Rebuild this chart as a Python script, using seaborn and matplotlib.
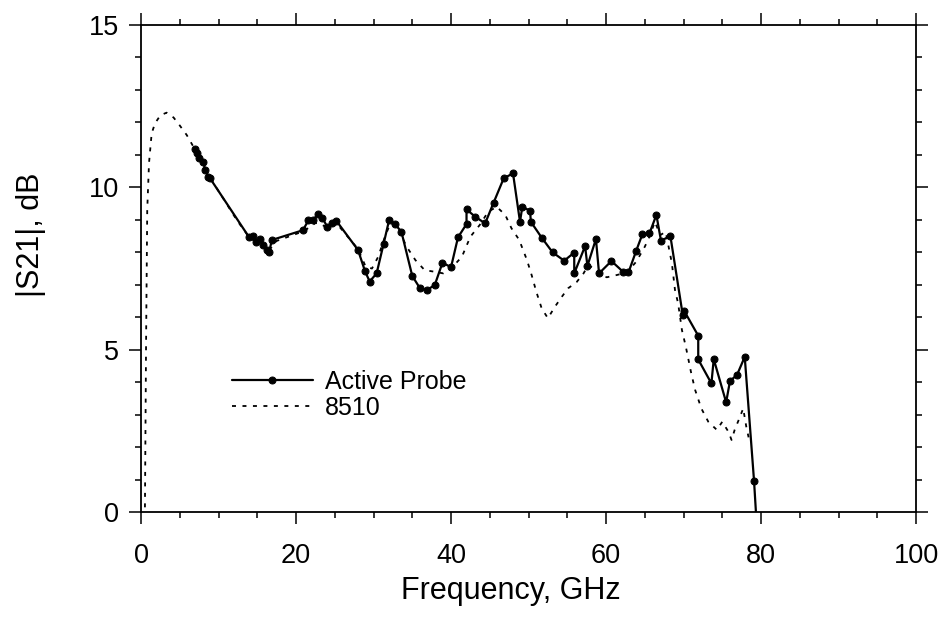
import numpy as np
import pandas as pd
import matplotlib
matplotlib.use("Agg")
import matplotlib.pyplot as plt
from matplotlib.ticker import MultipleLocator
import seaborn as sns

# Active Probe measured points (GHz, dB)
probe_freq = [7.0, 7.2, 7.5, 8.0, 8.3, 8.7, 8.9, 13.9, 14.4, 14.8, 15.3, 15.8, 16.2, 16.5,
              16.9, 20.9, 21.6, 22.2, 22.8, 23.4, 24.0, 24.6, 25.2, 28.0, 28.9, 29.5, 30.4,
              31.3, 32.0, 32.8, 33.6, 35.0, 36.0, 36.9, 37.9, 38.9, 40.0, 40.9, 42.0, 42.0,
              43.1, 44.4, 45.5, 46.8, 48.0, 48.9, 49.2, 50.2, 50.3, 51.7, 53.1, 54.6, 55.9,
              55.9, 57.3, 57.6, 58.7, 59.1, 60.7, 62.2, 62.9, 63.9, 64.7, 65.6, 66.5, 67.1,
              68.3, 69.9, 70.1, 71.9, 71.9, 73.6, 73.9, 75.5, 76.0, 76.9, 77.9, 79.1, 79.6]
probe_db = [11.17, 11.05, 10.89, 10.79, 10.53, 10.33, 10.28, 8.48, 8.51, 8.33, 8.41, 8.22, 8.07, 8.00,
            8.38, 8.68, 8.99, 8.99, 9.17, 9.07, 8.79, 8.89, 8.97, 8.07, 7.42, 7.10, 7.35,
            8.26, 8.98, 8.86, 8.63, 7.27, 6.89, 6.84, 6.99, 7.68, 7.54, 8.46, 8.87, 9.32,
            9.10, 8.89, 9.53, 10.28, 10.43, 8.94, 9.40, 9.28, 8.94, 8.45, 8.00, 7.74, 7.99,
            7.35, 8.19, 7.58, 8.41, 7.35, 7.73, 7.40, 7.38, 8.05, 8.56, 8.58, 9.15, 8.35,
            8.51, 6.07, 6.19, 5.43, 4.70, 3.96, 4.71, 3.38, 4.04, 4.22, 4.78, 0.96, -1.0]

# 8510 network analyzer trace (GHz, dB)
ref_freq = [0.45, 0.5, 0.65, 0.8, 1.03, 1.37, 1.8, 2.5, 3.3, 4.2, 4.95, 5.9, 7.0, 8.5, 11.0,
            11.8, 12.6, 14.0, 16.5, 17.5, 21.0, 22.5, 23.1, 24.0, 25.2, 28.0, 29.0, 29.8,
            30.6, 31.5, 32.2, 33.2, 34.2, 35.4, 36.6, 37.9, 39.0, 40.0, 41.4, 42.5, 43.7,
            44.8, 45.9, 47.0, 47.8, 48.8, 49.8, 50.4, 51.0, 51.7, 52.5, 53.4, 54.3, 55.1,
            56.2, 57.1, 57.7, 58.5, 59.3, 60.1, 61.4, 62.7, 63.9, 65.0, 65.7, 66.3, 67.0,
            67.7, 68.5, 68.9, 69.3, 69.8, 70.3, 71.0, 71.5, 72.3, 73.2, 74.3, 75.0, 75.8,
            76.2, 76.6, 77.3, 77.7, 78.1, 78.4]
ref_db = [-0.5, 0.0, 5.2, 9.3, 10.75, 11.66, 11.97, 12.22, 12.30, 12.15, 11.92, 11.61, 11.15, 10.45, 9.51,
          9.20, 8.91, 8.45, 8.05, 8.35, 8.65, 8.90, 8.89, 8.75, 8.90, 8.10, 7.55, 7.50,
          7.86, 8.50, 8.90, 8.75, 8.20, 7.76, 7.45, 7.40, 7.35, 7.50, 7.86, 8.48, 8.84,
          9.25, 9.40, 9.15, 8.74, 8.38, 7.76, 7.30, 6.79, 6.27, 5.97, 6.32, 6.63, 6.89,
          7.08, 7.35, 7.60, 7.50, 7.30, 7.23, 7.30, 7.38, 7.71, 8.17, 8.53, 8.94, 8.53,
          8.63, 7.66, 6.84, 6.43, 5.60, 5.09, 4.27, 3.76, 3.19, 2.78, 2.53, 2.78, 2.47,
          2.22, 2.53, 2.94, 3.19, 2.63, 2.30]

x_ticks = [0, 20, 40, 60, 80, 100]
y_ticks = [0, 5, 10, 15]

probe = pd.DataFrame({"f": probe_freq, "db": probe_db})
ref = pd.DataFrame({"f": ref_freq, "db": ref_db})

sns.set_style("ticks")
plt.rcParams["font.family"] = ["Liberation Sans", "DejaVu Sans"]
plt.rcParams["text.color"] = "black"
plt.rcParams["axes.labelcolor"] = "black"
plt.rcParams["xtick.color"] = "black"
plt.rcParams["ytick.color"] = "black"

fig = plt.figure(figsize=(9.51, 6.22), dpi=100)
ax = fig.add_axes([0.1483, 0.1768, 0.8149, 0.783])

sns.lineplot(data=probe, x="f", y="db", ax=ax, sort=False, estimator=None,
             color="black", linewidth=1.6, marker="o", markersize=5,
             markeredgecolor="black", label="Active Probe")
sns.lineplot(data=ref, x="f", y="db", ax=ax, sort=False, estimator=None,
             color="black", linewidth=1.3, linestyle=(0, (2.2, 3.6)), label="8510")

ax.set_xlim(0, 100)
ax.set_ylim(0, 15)
ax.set_xticks(x_ticks)
ax.set_yticks(y_ticks)
ax.xaxis.set_minor_locator(MultipleLocator(5))
ax.yaxis.set_minor_locator(MultipleLocator(1))
ax.tick_params(which="both", direction="out", top=True, right=True,
               color="black", labelcolor="black", width=1.1)
ax.tick_params(which="major", length=8.6)
ax.tick_params(which="minor", length=4.3)
ax.tick_params(axis="x", which="major", labelsize=19.5, pad=14)
ax.tick_params(axis="y", which="major", labelsize=19.5, pad=7)
for s in ax.spines.values():
    s.set_linewidth(1.3)
    s.set_color("black")

ax.set_xlabel("Frequency, GHz", fontsize=22, color="black")
ax.set_ylabel("|S21|, dB", fontsize=22, color="black")
ax.xaxis.set_label_coords(0.477, -0.132)
ax.yaxis.set_label_coords(-0.123, 0.569)

leg = ax.legend(loc="upper left", bbox_to_anchor=(0.117, 0.2916), frameon=False, fontsize=18,
                handlelength=3.24, handletextpad=0.5, labelspacing=0.07, borderpad=0,
                borderaxespad=0, numpoints=1)
for t in leg.get_texts():
    t.set_color("black")

fig.savefig("out.png", dpi=100)
